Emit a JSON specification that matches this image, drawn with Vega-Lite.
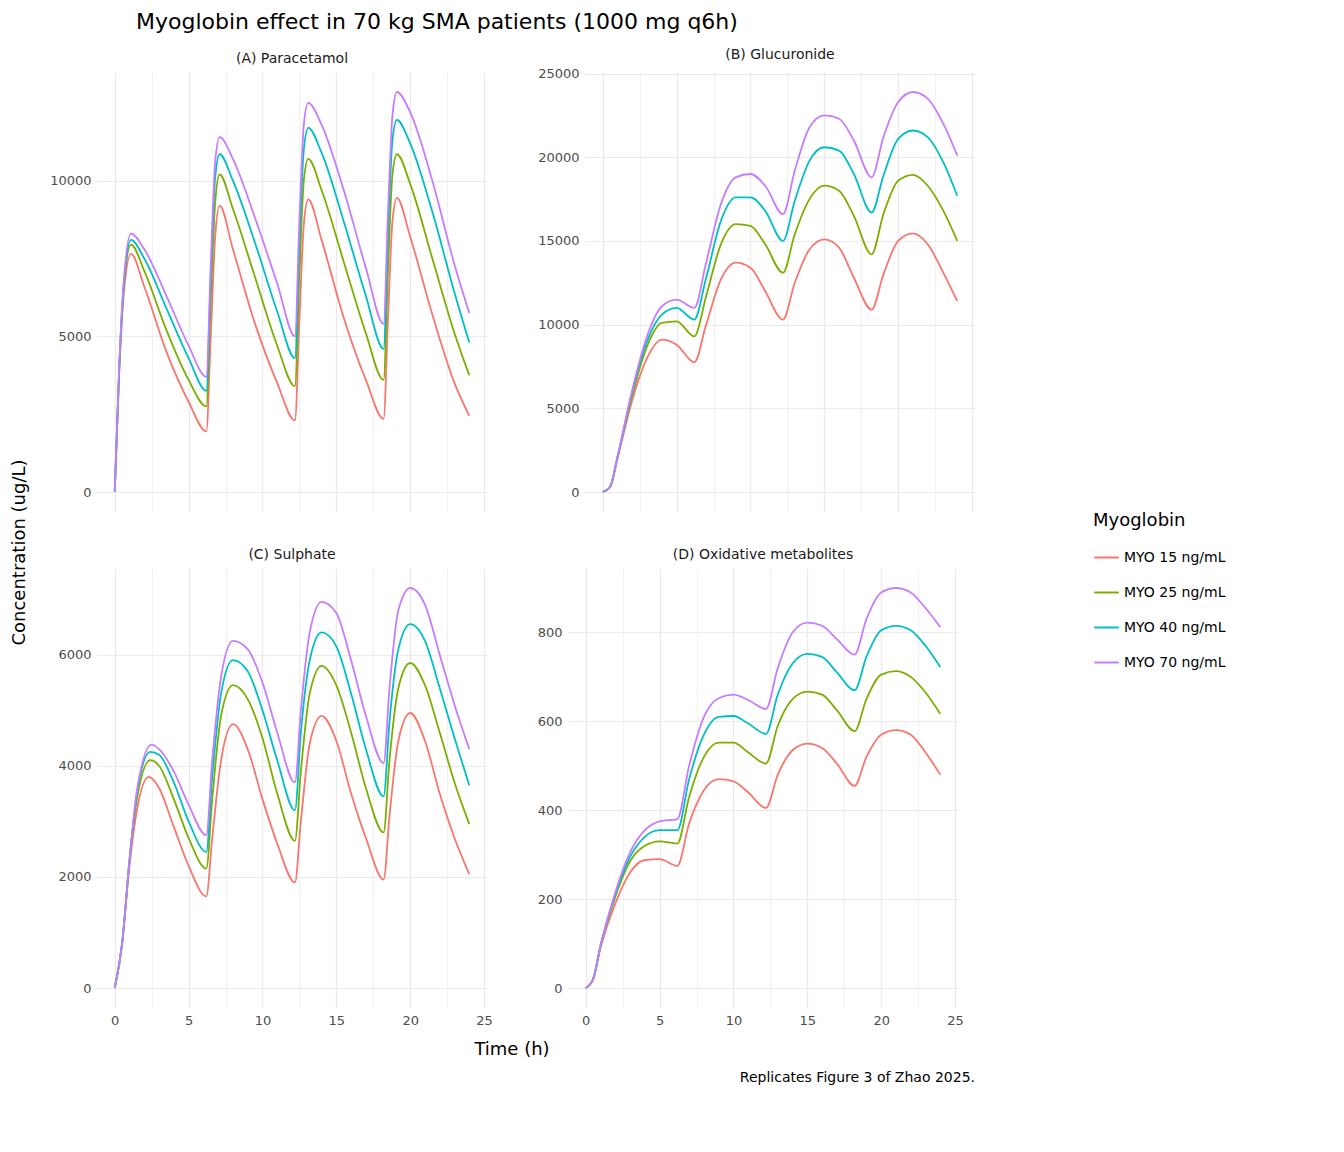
{
  "$schema": "https://vega.github.io/schema/vega-lite/v6.json",
  "background": "white",
  "padding": {"left": 10, "top": 10, "right": 10, "bottom": 10},
  "title": {"text": "Myoglobin effect in 70 kg SMA patients (1000 mg q6h)", "anchor": "start", "fontSize": 22, "fontWeight": "normal", "font": "DejaVu Sans", "offset": 14, "dx": 126},
  "config": {
    "font": "DejaVu Sans",
    "view": {"stroke": null},
    "axis": {"gridColor": "#EBEBEB", "domain": false, "ticks": false, "labelFontSize": 13, "labelColor": "#4D4D4D", "labelPadding": 6},
    "legend": {"titleFontSize": 18, "titleFontWeight": "normal", "labelFontSize": 14, "symbolType": "stroke", "symbolSize": 600, "symbolStrokeWidth": 2, "rowPadding": 14, "titlePadding": 14}
  },
  "datasets": {
    "curves": [
      {"p": "(A) Paracetamol", "m": "MYO 15 ng/mL", "t": [0,0.3,0.6,1.1,2,3.5,5,6.2,6.5,6.8,7.1,8,9.5,11,12.2,12.5,12.8,13.1,14,15.5,17,18.2,18.5,18.8,19.1,20,21.5,23,24], "c": [0,3800,6300,7650,6600,4500,2900,1950,5000,8200,9200,7800,5400,3500,2300,5500,8600,9400,8100,5600,3600,2350,5600,8700,9450,8200,5700,3500,2450]},
      {"p": "(A) Paracetamol", "m": "MYO 25 ng/mL", "t": [0,0.3,0.6,1.1,2,3.5,5,6.2,6.5,6.8,7.1,8,9.5,11,12.2,12.5,12.8,13.1,14,15.5,17,18.2,18.5,18.8,19.1,20,21.5,23,24], "c": [0,3900,6500,7950,7100,5200,3600,2750,6200,9300,10200,9100,6900,4700,3400,7000,10000,10700,9700,7400,5100,3600,7200,10200,10850,9900,7500,5100,3750]},
      {"p": "(A) Paracetamol", "m": "MYO 40 ng/mL", "t": [0,0.3,0.6,1.1,2,3.5,5,6.2,6.5,6.8,7.1,8,9.5,11,12.2,12.5,12.8,13.1,14,15.5,17,18.2,18.5,18.8,19.1,20,21.5,23,24], "c": [0,3950,6600,8100,7500,5900,4300,3250,6900,10100,10850,10000,8000,5800,4300,8000,11000,11700,10900,8700,6300,4600,8300,11300,11950,11200,9000,6400,4800]},
      {"p": "(A) Paracetamol", "m": "MYO 70 ng/mL", "t": [0,0.3,0.6,1.1,2,3.5,5,6.2,6.5,6.8,7.1,8,9.5,11,12.2,12.5,12.8,13.1,14,15.5,17,18.2,18.5,18.8,19.1,20,21.5,23,24], "c": [0,4000,6700,8300,7800,6300,4700,3700,7300,10600,11400,10700,8800,6700,5000,8700,11800,12500,11800,9700,7200,5400,9000,12100,12850,12200,10000,7300,5750]},
      {"p": "(B) Glucuronide", "m": "MYO 15 ng/mL", "t": [0,0.5,1,2,3,4,5,6.2,7,8,9,10,11,12.2,13,14,15,16,17,18.2,19,20,21,22,23,24], "c": [0,300,2000,5500,8000,9100,8800,7750,10000,12700,13700,13400,12000,10300,12500,14500,15100,14600,12800,10900,13000,15000,15450,14800,13200,11400]},
      {"p": "(B) Glucuronide", "m": "MYO 25 ng/mL", "t": [0,0.5,1,2,3,4,5,6.2,7,8,9,10,11,12.2,13,14,15,16,17,18.2,19,20,21,22,23,24], "c": [0,300,2100,5800,8700,10100,10200,9300,11700,14800,16000,15900,14800,13100,15400,17500,18300,18000,16500,14200,16600,18600,18950,18300,16900,15000]},
      {"p": "(B) Glucuronide", "m": "MYO 40 ng/mL", "t": [0,0.5,1,2,3,4,5,6.2,7,8,9,10,11,12.2,13,14,15,16,17,18.2,19,20,21,22,23,24], "c": [0,300,2100,6000,9000,10600,11000,10300,12800,16200,17600,17600,16800,15000,17400,19800,20600,20400,19000,16700,18900,21100,21600,21200,19800,17700]},
      {"p": "(B) Glucuronide", "m": "MYO 70 ng/mL", "t": [0,0.5,1,2,3,4,5,6.2,7,8,9,10,11,12.2,13,14,15,16,17,18.2,19,20,21,22,23,24], "c": [0,300,2100,6100,9300,11100,11500,11000,13700,17200,18800,19000,18300,16600,19200,21800,22500,22300,21000,18800,21200,23300,23900,23500,22100,20100]},
      {"p": "(C) Sulphate", "m": "MYO 15 ng/mL", "t": [0,0.5,1,1.5,2.3,3,4,5,6.2,6.6,7.2,8,9,10,11,12.2,12.6,13.2,14,15,16,17,18.2,18.6,19.2,20,21,22,23,24], "c": [0,800,2200,3200,3800,3600,2900,2200,1650,2700,4100,4750,4300,3400,2600,1900,3000,4400,4900,4450,3500,2700,1950,3100,4450,4950,4450,3500,2700,2050]},
      {"p": "(C) Sulphate", "m": "MYO 25 ng/mL", "t": [0,0.5,1,1.5,2.4,3,4,5,6.2,6.6,7.2,8,9,10,11,12.2,12.6,13.2,14,15,16,17,18.2,18.6,19.2,20,21,22,23,24], "c": [0,800,2300,3400,4100,4000,3400,2700,2150,3400,4900,5450,5200,4500,3500,2650,3900,5300,5800,5450,4600,3600,2800,4100,5400,5850,5450,4600,3700,2950]},
      {"p": "(C) Sulphate", "m": "MYO 40 ng/mL", "t": [0,0.5,1,1.5,2.4,3,4,5,6.2,6.6,7.2,8,9,10,11,12.2,12.6,13.2,14,15,16,17,18.2,18.6,19.2,20,21,22,23,24], "c": [0,800,2300,3500,4250,4200,3700,3000,2450,3800,5300,5900,5700,5000,4100,3200,4600,5900,6400,6150,5300,4300,3450,4800,6100,6550,6250,5400,4500,3650]},
      {"p": "(C) Sulphate", "m": "MYO 70 ng/mL", "t": [0,0.5,1,1.5,2.5,3,4,5,6.2,6.6,7.2,8,9,10,11,12.2,12.6,13.2,14,15,16,17,18.2,18.6,19.2,20,21,22,23,24], "c": [0,800,2300,3550,4380,4300,3900,3300,2750,4100,5600,6250,6100,5500,4600,3700,5000,6400,6950,6750,5900,4900,4050,5400,6800,7200,6900,6000,5100,4300]},
      {"p": "(D) Oxidative metabolites", "m": "MYO 15 ng/mL", "t": [0,0.5,1,2,3,4,5,6.2,7,8,9,10,11,12.2,13,14,15,16,17,18.2,19,20,21,22,23,24], "c": [0,20,90,190,260,288,290,275,370,445,470,465,440,405,480,535,550,540,505,455,520,570,580,570,530,480]},
      {"p": "(D) Oxidative metabolites", "m": "MYO 25 ng/mL", "t": [0,0.5,1,2,3,4,5,6.2,7,8,9,10,11,12.2,13,14,15,16,17,18.2,19,20,21,22,23,24], "c": [0,20,95,205,285,320,330,325,430,520,552,552,530,505,590,650,667,660,625,578,650,705,713,700,665,617]},
      {"p": "(D) Oxidative metabolites", "m": "MYO 40 ng/mL", "t": [0,0.5,1,2,3,4,5,6.2,7,8,9,10,11,12.2,13,14,15,16,17,18.2,19,20,21,22,23,24], "c": [0,20,95,210,295,340,355,355,470,570,610,612,595,572,660,730,752,745,710,670,745,805,815,805,770,722]},
      {"p": "(D) Oxidative metabolites", "m": "MYO 70 ng/mL", "t": [0,0.5,1,2,3,4,5,6.2,7,8,9,10,11,12.2,13,14,15,16,17,18.2,19,20,21,22,23,24], "c": [0,20,95,215,305,355,375,380,500,610,652,660,648,628,720,800,822,815,785,750,830,890,900,890,855,812]}
    ],
    "ylab": [{"v": 0}]
  },
  "hconcat": [
    {
      "data": {"name": "ylab"},
      "width": 1,
      "height": 960,
      "mark": {"type": "rule", "opacity": 0},
      "encoding": {"y": {"field": "v", "type": "quantitative", "axis": {"title": "Concentration (ug/L)", "titleFontSize": 18, "titleFontWeight": "normal", "titleColor": "black", "labels": false, "grid": false, "titlePadding": 0}}}
    },
    {
      "data": {"name": "curves"},
      "transform": [{"flatten": ["t", "c"]}],
      "title": {"text": "Replicates Figure 3 of Zhao 2025.", "orient": "bottom", "anchor": "end", "fontSize": 14, "fontWeight": "normal", "offset": 12},
      "facet": {"field": "p", "type": "nominal", "header": {"title": "Time (h)", "titleOrient": "bottom", "titleFontSize": 18, "titleFontWeight": "normal", "titlePadding": 14, "labelFontSize": 14, "labelColor": "#1A1A1A", "labelPadding": 6}},
      "columns": 2,
      "spacing": {"row": 36, "column": 50},
      "resolve": {"scale": {"y": "independent"}},
      "spec": {
        "width": 390,
        "height": 440,
        "mark": {"type": "line", "interpolate": "monotone", "strokeWidth": 1.8},
        "encoding": {
          "x": {"field": "t", "type": "quantitative", "scale": {"domain": [-1.2, 25.2], "nice": false},
            "axis": {"title": null, "values": [0,2.5,5,7.5,10,12.5,15,17.5,20,22.5,25], "labelExpr": "datum.value % 5 == 0 ? datum.label : ''", "gridWidth": {"condition": {"test": "datum.value % 5 == 0", "value": 1.4}, "value": 0.7}}},
          "y": {"field": "c", "type": "quantitative", "title": null, "scale": {"nice": false, "padding": 20}, "axis": {"tickCount": 4, "format": "d"}},
          "color": {"field": "m", "type": "nominal", "title": "Myoglobin",
            "scale": {"range": ["#F8766D", "#7CAE00", "#00BFC4", "#C77CFF"]},
            "legend": {"orient": "none", "legendX": 1065, "legendY": 440}}
        }
      }
    }
  ]
}
